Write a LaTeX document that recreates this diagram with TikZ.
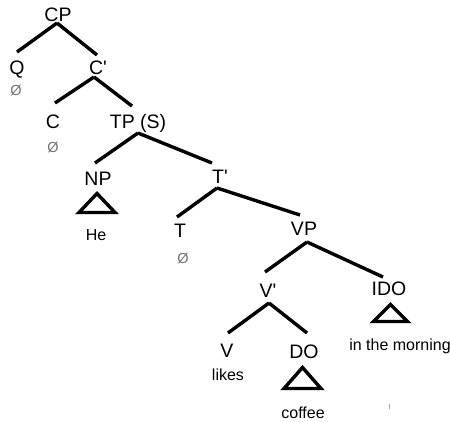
\documentclass[tikz,border=0pt]{standalone}
\usepackage{fontspec}
\setmainfont{Liberation Sans}[Ligatures=TeXOff]
\begin{document}
\begin{tikzpicture}[x=1pt,y=-1pt,
  lbl/.style={anchor=base,inner sep=0pt,font=\fontsize{19.5}{21}\selectfont},
  word/.style={anchor=base,inner sep=0pt,font=\fontsize{16}{18}\selectfont},
  nul/.style={inner sep=0pt,text=black!55,font=\fontsize{14.5}{16}\selectfont},
  branch/.style={line width=3.4pt},
  tri/.style={line width=3.4pt,line join=miter}]
\useasboundingbox[fill=white] (0,0) rectangle (450,421);
% labels
\node[lbl] (CP) at (58,21) {CP};
\node[lbl] (Q) at (17,74) {Q};
\node[nul] (Qn) at (16,90) {Ø};
\node[lbl] (Cb) at (98,74) {C'};
\node[lbl] (C) at (53,128) {C};
\node[nul] (Cn) at (53,147) {Ø};
\node[lbl] (TP) at (138,128) {TP (S)};
\node[lbl] (NP) at (98,185) {NP};
\node[word] (He) at (96,240) {He};
\node[lbl] (Tb) at (220,183) {T'};
\node[lbl] (T) at (180,237) {T};
\node[nul] (Tn) at (183,258) {Ø};
\node[lbl] (VP) at (304,235) {VP};
\node[lbl] (Vb) at (268,297) {V'};
\node[lbl] (IDO) at (389,295) {IDO};
\node[word] (morning) at (400,350) {in the morning};
\node[lbl] (V) at (227,357) {V};
\node[word] (likes) at (228,380) {likes};
\node[lbl] (DO) at (304,358) {DO};
\node[word] (coffee) at (303,418) {coffee};
% branches
\draw[branch] ([shift={(-1,2)}]CP.base) -- ([shift={(0,-22)}]Q.base);
\draw[branch] ([shift={(-1,2)}]CP.base) -- ([shift={(-1,-19)}]Cb.base);
\draw[branch] ([shift={(-4,3)}]Cb.base) -- ([shift={(2,-25)}]C.base);
\draw[branch] ([shift={(-4,3)}]Cb.base) -- ([shift={(-6,-22)}]TP.base);
\draw[branch] ([shift={(0,5)}]TP.base) -- ([shift={(-3,-22)}]NP.base);
\draw[branch] ([shift={(0,5)}]TP.base) -- ([shift={(-8,-20)}]Tb.base);
\draw[branch] ([shift={(-3,5)}]Tb.base) -- ([shift={(-3,-20)}]T.base);
\draw[branch] ([shift={(-3,5)}]Tb.base) -- ([shift={(-4,-20)}]VP.base);
\draw[branch] ([shift={(3,7)}]VP.base) -- ([shift={(-3,-25)}]Vb.base);
\draw[branch] ([shift={(3,7)}]VP.base) -- ([shift={(-6,-18)}]IDO.base);
\draw[branch] ([shift={(1,6)}]Vb.base) -- ([shift={(1,-24)}]V.base);
\draw[branch] ([shift={(1,6)}]Vb.base) -- ([shift={(3,-25)}]DO.base);
% triangles
\draw[tri] ([shift={(-1,8.5)}]NP.base) -- ++(-18,19) -- ++(36,0) -- cycle;
\draw[tri] ([shift={(-1.5,9.5)}]DO.base) -- ++(-18.5,21) -- ++(37,0) -- cycle;
\draw[tri] ([shift={(1.5,9.5)}]IDO.base) -- ++(-17,17) -- ++(34,0) -- cycle;
% speck
\draw[black!35,line width=0.8pt] (389,404) -- (389,409);
\end{tikzpicture}
\end{document}
